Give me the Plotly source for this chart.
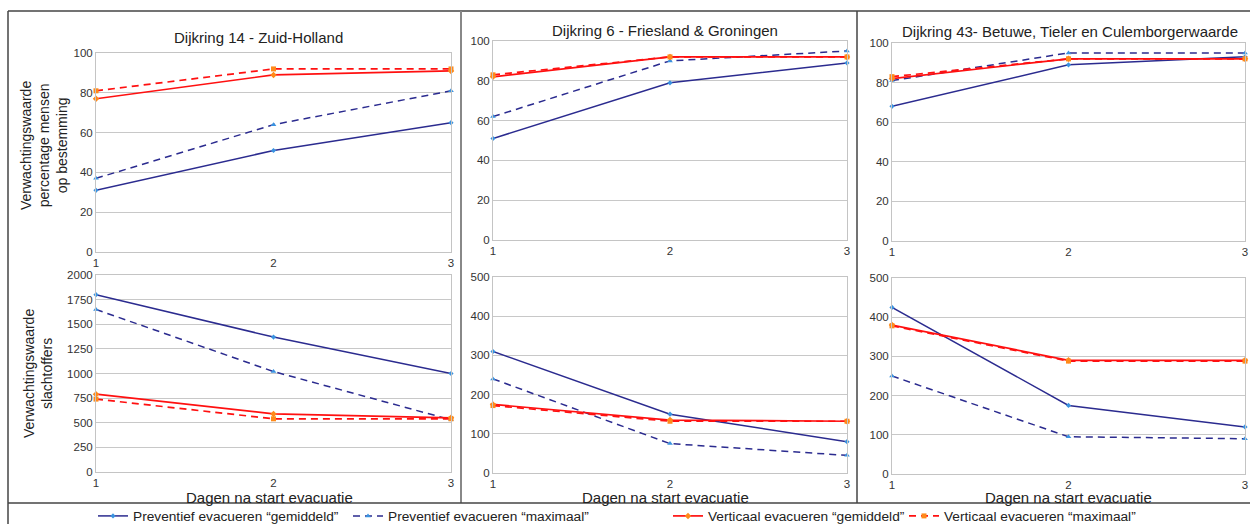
import plotly.graph_objects as go

W, H = 1250, 524

days = [1, 2, 3]

panel_titles = [
    "Dijkring 14 - Zuid-Holland",
    "Dijkring 6 - Friesland & Groningen",
    "Dijkring 43- Betuwe, Tieler en Culemborgerwaarde",
]

series_names = [
    "Preventief evacueren “gemiddeld”",
    "Preventief evacueren “maximaal”",
    "Verticaal evacueren “gemiddeld”",
    "Verticaal evacueren “maximaal”",
]

# Percentage mensen op bestemming (top row), per dijkring
pct_prev_gem = [[31, 51, 65], [51, 79, 89], [68, 89, 93]]
pct_prev_max = [[37, 64, 81], [62, 90, 95], [81, 95, 95]]
pct_vert_gem = [[77, 89, 91], [82, 92, 92], [82, 92, 92]]
pct_vert_max = [[81, 92, 92], [83, 92, 92], [83, 92, 92]]

# Slachtoffers (bottom row), per dijkring
sl_prev_gem = [[1800, 1370, 1000], [310, 150, 80], [425, 175, 120]]
sl_prev_max = [[1650, 1020, 530], [240, 75, 45], [250, 95, 90]]
sl_vert_gem = [[790, 590, 550], [175, 135, 132], [380, 290, 290]]
sl_vert_max = [[740, 540, 540], [172, 132, 132], [378, 288, 288]]

top_yticks = [0, 20, 40, 60, 80, 100]
bot_yticks = [[0, 250, 500, 750, 1000, 1250, 1500, 1750, 2000],
              [0, 100, 200, 300, 400, 500],
              [0, 100, 200, 300, 400, 500]]

FONT = "Liberation Sans, Arial, sans-serif"
NAVY = "#2b2b8f"
LBLUE = "#3a93e0"
RED = "#ff1010"
ORANGE = "#ff8a1a"

styles = [
    dict(line=dict(color=NAVY, width=1.5), marker=dict(color=LBLUE, size=4, symbol="diamond")),
    dict(line=dict(color=NAVY, width=1.5, dash="7px,5px"), marker=dict(color=LBLUE, size=5, symbol="triangle-up")),
    dict(line=dict(color=RED, width=1.7), marker=dict(color=ORANGE, size=5, symbol="diamond")),
    dict(line=dict(color=RED, width=1.7, dash="7px,5px"), marker=dict(color=ORANGE, size=5, symbol="square")),
]

def px_x(x):
    return x / W

def px_y(y):
    return 1 - y / H

xdom = [(96, 451), (493, 847), (892, 1245)]
top_ydom = [(252, 53), (240, 41), (241, 43)]
bot_ydom = [(472, 275), (473, 277), (474, 278)]

fig = go.Figure()
layout = dict()

legend_ids = ["legend", "legend2", "legend3", "legend4"]

for col in range(3):
    for row in range(2):
        idx = row * 3 + col + 1
        sfx = "" if idx == 1 else str(idx)
        if row == 0:
            data = [pct_prev_gem[col], pct_prev_max[col], pct_vert_gem[col], pct_vert_max[col]]
        else:
            data = [sl_prev_gem[col], sl_prev_max[col], sl_vert_gem[col], sl_vert_max[col]]
        for s in range(4):
            fig.add_trace(go.Scatter(
                x=days, y=data[s], mode="lines+markers",
                name=series_names[s], legendgroup=str(s),
                showlegend=(idx == 1), legend=legend_ids[s],
                xaxis="x" + sfx, yaxis="y" + sfx,
                line=styles[s]["line"], marker=styles[s]["marker"],
                cliponaxis=False,
            ))
        yd = top_ydom[col] if row == 0 else bot_ydom[col]
        yt = top_yticks if row == 0 else bot_yticks[col]
        layout["xaxis" + sfx] = dict(
            domain=[px_x(xdom[col][0]), px_x(xdom[col][1])],
            anchor="y" + sfx, range=[1, 3], tickvals=days,
            showgrid=False, zeroline=False, showline=True, mirror=True,
            linecolor="#c4c4c4", linewidth=1, ticks="",
            tickfont=dict(family=FONT, size=11.5, color="#333"),
        )
        layout["yaxis" + sfx] = dict(
            domain=[px_y(yd[0]), px_y(yd[1])],
            anchor="x" + sfx, range=[0, yt[-1]], tickvals=yt,
            showgrid=True, gridcolor="#c8c8c8", gridwidth=1, zeroline=False,
            showline=True, mirror=True, linecolor="#c4c4c4", linewidth=1, ticks="",
            tickfont=dict(family=FONT, size=11.5, color="#333"),
        )

annotations = []
title_pos = [(258, 38), (665, 30), (1070, 31)]
for t, (tx, ty) in zip(panel_titles, title_pos):
    annotations.append(dict(text=t, x=px_x(tx), y=px_y(ty), xref="paper", yref="paper",
                            showarrow=False, xanchor="center", yanchor="middle",
                            font=dict(family=FONT, size=15, color="#222")))
for cx in [269, 665, 1068]:
    annotations.append(dict(text="Dagen na start evacuatie", x=px_x(cx), y=px_y(497),
                            xref="paper", yref="paper", showarrow=False,
                            xanchor="center", yanchor="middle",
                            font=dict(family=FONT, size=15, color="#222")))
annotations.append(dict(text="Verwachtingswaarde<br>percentage mensen<br>op bestemming",
                        x=px_x(44), y=px_y(146), xref="paper", yref="paper", showarrow=False,
                        textangle=-90, xanchor="center", yanchor="middle",
                        font=dict(family=FONT, size=14, color="#222")))
annotations.append(dict(text="Verwachtingswaarde<br>slachtoffers",
                        x=px_x(38), y=px_y(374), xref="paper", yref="paper", showarrow=False,
                        textangle=-90, xanchor="center", yanchor="middle",
                        font=dict(family=FONT, size=14, color="#222")))

shapes = [
    dict(type="line", xref="paper", yref="paper", x0=px_x(8), x1=px_x(1250), y0=px_y(11), y1=px_y(11),
         line=dict(color="#444", width=1.5)),
    dict(type="line", xref="paper", yref="paper", x0=px_x(8), x1=px_x(8), y0=px_y(11), y1=px_y(524),
         line=dict(color="#444", width=1.5)),
    dict(type="line", xref="paper", yref="paper", x0=px_x(461), x1=px_x(461), y0=px_y(11), y1=px_y(503),
         line=dict(color="#888", width=2)),
    dict(type="line", xref="paper", yref="paper", x0=px_x(857), x1=px_x(857), y0=px_y(11), y1=px_y(503),
         line=dict(color="#444", width=1.5)),
    dict(type="line", xref="paper", yref="paper", x0=px_x(8), x1=px_x(1250), y0=px_y(503), y1=px_y(503),
         line=dict(color="#444", width=1.5)),
]

legend_x = [93, 348, 668, 904]
for lid, lx in zip(legend_ids, legend_x):
    layout[lid] = dict(x=px_x(lx), y=px_y(516), xref="container", yref="container",
                       xanchor="left", yanchor="middle",
                       orientation="h", bgcolor="rgba(0,0,0,0)",
                       font=dict(family=FONT, size=13.7, color="#222"),
                       itemwidth=30)

fig.update_layout(
    width=W, height=H, margin=dict(l=0, r=0, t=0, b=0, autoexpand=False),
    paper_bgcolor="white", plot_bgcolor="white",
    annotations=annotations, shapes=shapes, **layout,
)

fig.write_html(
    "out.html",
    config={"displayModeBar": False},
    post_script="document.body.style.margin='0';document.body.style.overflow='hidden';",
)
